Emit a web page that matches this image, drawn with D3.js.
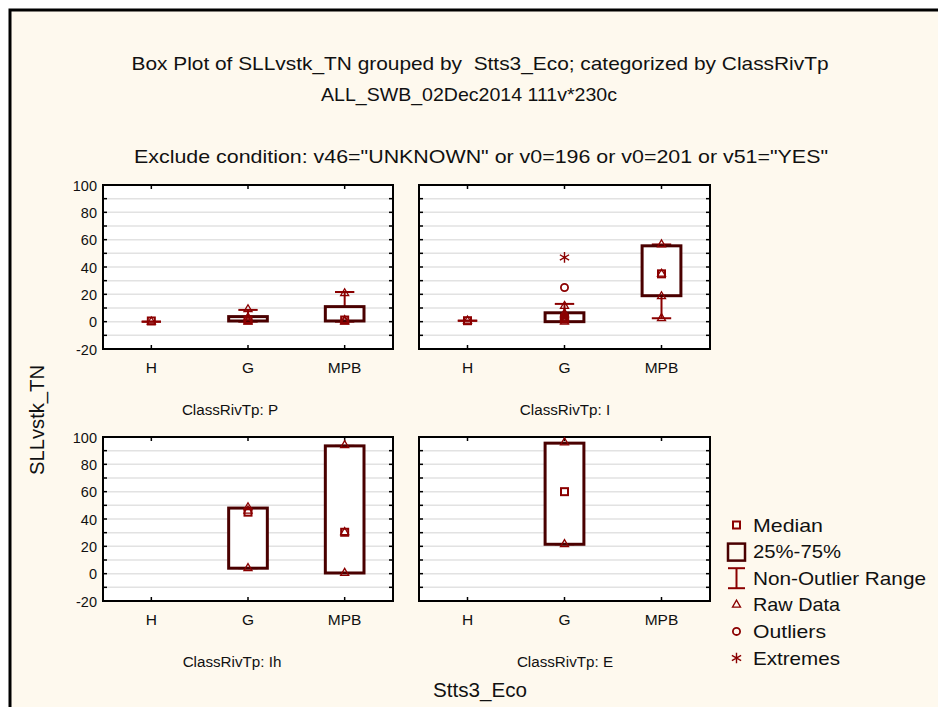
<!DOCTYPE html>
<html><head><meta charset="utf-8">
<script src="https://cdn.jsdelivr.net/npm/d3@7"></script>
<style>body{margin:0;background:#fff}svg{display:block}text{font-family:"Liberation Sans",Arial,sans-serif;fill:#111;white-space:pre}</style>
</head><body><svg id="c" width="938" height="707"></svg>
<script>
// ---- data ----
const categories = ["H", "G", "MPB"];
const panelNames = ["P", "I", "Ih", "E"];
const yTicks = [-20, 0, 20, 40, 60, 80, 100];
const gridValues = [-10, 0, 10, 20, 30, 40, 50, 60, 70, 80, 90];
// per panel, per category (null = no data)
const medians  = [[0.5, 1.2, 1.2], [0.7, 2.5, 35], [null, 45, 30.3], [null, 60, null]];
const q1s      = [[0, 0.5, 0.5],   [0.7, 0, 19],   [null, 4, 0.5],   [null, 21.5, null]];
const q3s      = [[0, 3.7, 11],    [0.7, 6.5, 55.5],[null, 48, 93.5], [null, 95.5, null]];
const whiskLo  = [[0, 0, 0],       [0.7, 0, 2.5],  [null, 4, 0.5],   [null, 21.5, null]];
const whiskHi  = [[0, 8.6, 21.7],  [0.7, 13, 56.5],[null, 48, 93.5], [null, 95.5, null]];
const rawData  = [
  [[0], [9, 1, 0, 3], [20.7, 1, 0]],
  [[0.7], [11.4, 6, 5, 4, 3, 2, 1, 0], [56.5, 35, 18.5, 2.5]],
  [[], [48.5, 46, 4], [94, 30.3, 0.5]],
  [[], [96, 21.5], []]
];
const outliers = [[[], [], []], [[], [25], []], [[], [], []], [[], [], []]];
const extremes = [[[], [], []], [[], [47], []], [[], [], []], [[], [], []]];
const titleLines = ["Box Plot of SLLvstk_TN grouped by  Stts3_Eco; categorized by ClassRivTp", "ALL_SWB_02Dec2014 111v*230c"];
const excludeText = 'Exclude condition: v46="UNKNOWN" or v0=196 or v0=201 or v51="YES"';
const legendItems = ["Median", "25%-75%", "Non-Outlier Range", "Raw Data", "Outliers", "Extremes"];

// ---- drawing ----
const svg = d3.select("#c");
const bg = "#FEF9EE", boxCol = "#4a0000", mk = "#8b0000";
svg.append("rect").attr("x", 10).attr("y", 10).attr("width", 940).attr("height", 710)
  .attr("fill", bg).attr("stroke", "#000").attr("stroke-width", 3);

function fitText(sel, x, y, str, fs, len, anchor) {
  return sel.append("text").attr("x", x).attr("y", y).attr("text-anchor", anchor || "middle")
    .attr("font-size", fs).attr("textLength", len).attr("lengthAdjust", "spacingAndGlyphs").text(str);
}
fitText(svg, 480, 70, titleLines[0], 19, 697);
fitText(svg, 469, 101, titleLines[1], 19, 296);
fitText(svg, 481, 163, excludeText, 19, 694);

svg.append("text").attr("transform", "translate(43.5,420) rotate(-90)").attr("text-anchor", "middle")
  .attr("font-size", 19.5).attr("textLength", 110).attr("lengthAdjust", "spacingAndGlyphs").text("SLLvstk_TN");
fitText(svg, 480, 697, "Stts3_Eco", 20, 94);

const panelPos = [
  {x0: 103, x1: 393, y0: 185, y1: 349, left: true, ly: 415, lx: 230},
  {x0: 419, x1: 710, y0: 185, y1: 349, left: false, ly: 415, lx: 565},
  {x0: 103, x1: 393, y0: 437, y1: 601, left: true, ly: 667, lx: 232},
  {x0: 419, x1: 710, y0: 437, y1: 601, left: false, ly: 667, lx: 565}
];

const tri = d3.symbol().type(d3.symbolTriangle).size(28);
const ast = d3.symbol().type(d3.symbolAsterisk).size(80);

panelPos.forEach((p, pi) => {
  const x = d3.scalePoint().domain(categories).range([p.x0, p.x1]).padding(0.5);
  const y = d3.scaleLinear().domain([-20, 100]).range([p.y1, p.y0]);
  const g = svg.append("g");
  g.append("rect").attr("x", p.x0).attr("y", p.y0).attr("width", p.x1 - p.x0).attr("height", p.y1 - p.y0).attr("fill", "#fff");
  g.selectAll("line.grid").data(gridValues).join("line").attr("class", "grid")
    .attr("x1", p.x0).attr("x2", p.x1).attr("y1", d => y(d)).attr("y2", d => y(d))
    .attr("stroke", "#e2e2e2").attr("stroke-width", 1.5);
  g.selectAll("line.tl").data(gridValues).join("line").attr("class","tl").attr("x1", p.x0).attr("x2", p.x0 + 4)
    .attr("y1", d => y(d)).attr("y2", d => y(d)).attr("stroke", "#000").attr("stroke-width", 1.5);
  g.selectAll("line.tr").data(gridValues).join("line").attr("class","tr").attr("x1", p.x1).attr("x2", p.x1 - 4)
    .attr("y1", d => y(d)).attr("y2", d => y(d)).attr("stroke", "#000").attr("stroke-width", 1.5);
  g.selectAll("line.tt").data(categories).join("line").attr("class","tt").attr("x1", d => x(d)).attr("x2", d => x(d))
    .attr("y1", p.y0).attr("y2", p.y0 + 4).attr("stroke", "#000").attr("stroke-width", 1.5);
  g.selectAll("line.tb").data(categories).join("line").attr("class","tb").attr("x1", d => x(d)).attr("x2", d => x(d))
    .attr("y1", p.y1).attr("y2", p.y1 - 4).attr("stroke", "#000").attr("stroke-width", 1.5);
  g.append("rect").attr("x", p.x0).attr("y", p.y0).attr("width", p.x1 - p.x0).attr("height", p.y1 - p.y0)
    .attr("fill", "none").attr("stroke", "#000").attr("stroke-width", 2);
  if (p.left) {
    g.selectAll("text.yt").data(yTicks).join("text").attr("class","yt").attr("x", p.x0 - 6).attr("y", d => y(d) + 5.5)
      .attr("text-anchor", "end").attr("font-size", 14.5).text(d => d);
  }
  g.selectAll("text.xt").data(categories).join("text").attr("class","xt").attr("x", d => x(d)).attr("y", p.y1 + 23.5)
    .attr("text-anchor", "middle").attr("font-size", 15.5).text(d => d);
  g.append("text").attr("x", p.lx).attr("y", p.ly).attr("text-anchor", "middle")
    .attr("font-size", 15.2).text("ClassRivTp: " + panelNames[pi]);

  const bw = x.step() * 0.4, cw = x.step() * 0.2;
  categories.forEach((c, ci) => {
    if (medians[pi][ci] === null) return;
    const cx = x(c);
    g.append("line").attr("x1", cx).attr("x2", cx).attr("y1", y(whiskLo[pi][ci])).attr("y2", y(whiskHi[pi][ci]))
      .attr("stroke", mk).attr("stroke-width", 2);
    [whiskLo[pi][ci], whiskHi[pi][ci]].forEach(v => {
      g.append("line").attr("x1", cx - cw / 2).attr("x2", cx + cw / 2).attr("y1", y(v)).attr("y2", y(v))
        .attr("stroke", mk).attr("stroke-width", 2);
    });
    if (q3s[pi][ci] > q1s[pi][ci]) {
      g.append("rect").attr("x", cx - bw / 2).attr("width", bw).attr("y", y(q3s[pi][ci]))
        .attr("height", y(q1s[pi][ci]) - y(q3s[pi][ci])).attr("fill", "#fff")
        .attr("stroke", boxCol).attr("stroke-width", 3);
    }
    rawData[pi][ci].forEach(v => {
      g.append("path").attr("d", tri).attr("transform", `translate(${cx},${y(v)})`)
        .attr("fill", "none").attr("stroke", mk).attr("stroke-width", 1.3);
    });
    outliers[pi][ci].forEach(v => {
      g.append("circle").attr("cx", cx).attr("cy", y(v)).attr("r", 3.6).attr("fill", "none")
        .attr("stroke", mk).attr("stroke-width", 1.8);
    });
    extremes[pi][ci].forEach(v => {
      g.append("path").attr("d", ast).attr("transform", `translate(${cx},${y(v)})`)
        .attr("fill", "none").attr("stroke", mk).attr("stroke-width", 1.4);
    });
    g.append("rect").attr("x", cx - 3.5).attr("y", y(medians[pi][ci]) - 3.5).attr("width", 7).attr("height", 7)
      .attr("fill", "none").attr("stroke", mk).attr("stroke-width", 2);
  });
});

// legend
const legendWidths = [70, 88, 173, 87, 73, 87];
const lg = svg.append("g");
const ly = d3.scalePoint().domain(legendItems).range([525, 658]);
legendItems.forEach((t, i) => {
  const cy = ly(t), cx = 736.5;
  fitText(lg, 753, cy + 6.5, t, 18.5, legendWidths[i], "start");
  if (i === 0) lg.append("rect").attr("x", cx - 3.5).attr("y", cy - 3.5).attr("width", 7).attr("height", 7)
    .attr("fill", "none").attr("stroke", mk).attr("stroke-width", 2);
  if (i === 1) lg.append("rect").attr("x", 728).attr("y", cy - 8).attr("width", 17).attr("height", 17)
    .attr("fill", "none").attr("stroke", boxCol).attr("stroke-width", 2.5);
  if (i === 2) {
    lg.append("line").attr("x1", cx).attr("x2", cx).attr("y1", cy - 10).attr("y2", cy + 10).attr("stroke", mk).attr("stroke-width", 2);
    lg.append("line").attr("x1", 728).attr("x2", 745).attr("y1", cy - 10).attr("y2", cy - 10).attr("stroke", mk).attr("stroke-width", 2);
    lg.append("line").attr("x1", 728).attr("x2", 745).attr("y1", cy + 10).attr("y2", cy + 10).attr("stroke", mk).attr("stroke-width", 2);
  }
  if (i === 3) lg.append("path").attr("d", tri).attr("transform", `translate(${cx},${cy})`)
    .attr("fill", "none").attr("stroke", mk).attr("stroke-width", 1.3);
  if (i === 4) lg.append("circle").attr("cx", cx).attr("cy", cy).attr("r", 3.6).attr("fill", "none").attr("stroke", mk).attr("stroke-width", 1.8);
  if (i === 5) lg.append("path").attr("d", ast).attr("transform", `translate(${cx},${cy})`)
    .attr("fill", "none").attr("stroke", mk).attr("stroke-width", 1.4);
});
</script></body></html>
